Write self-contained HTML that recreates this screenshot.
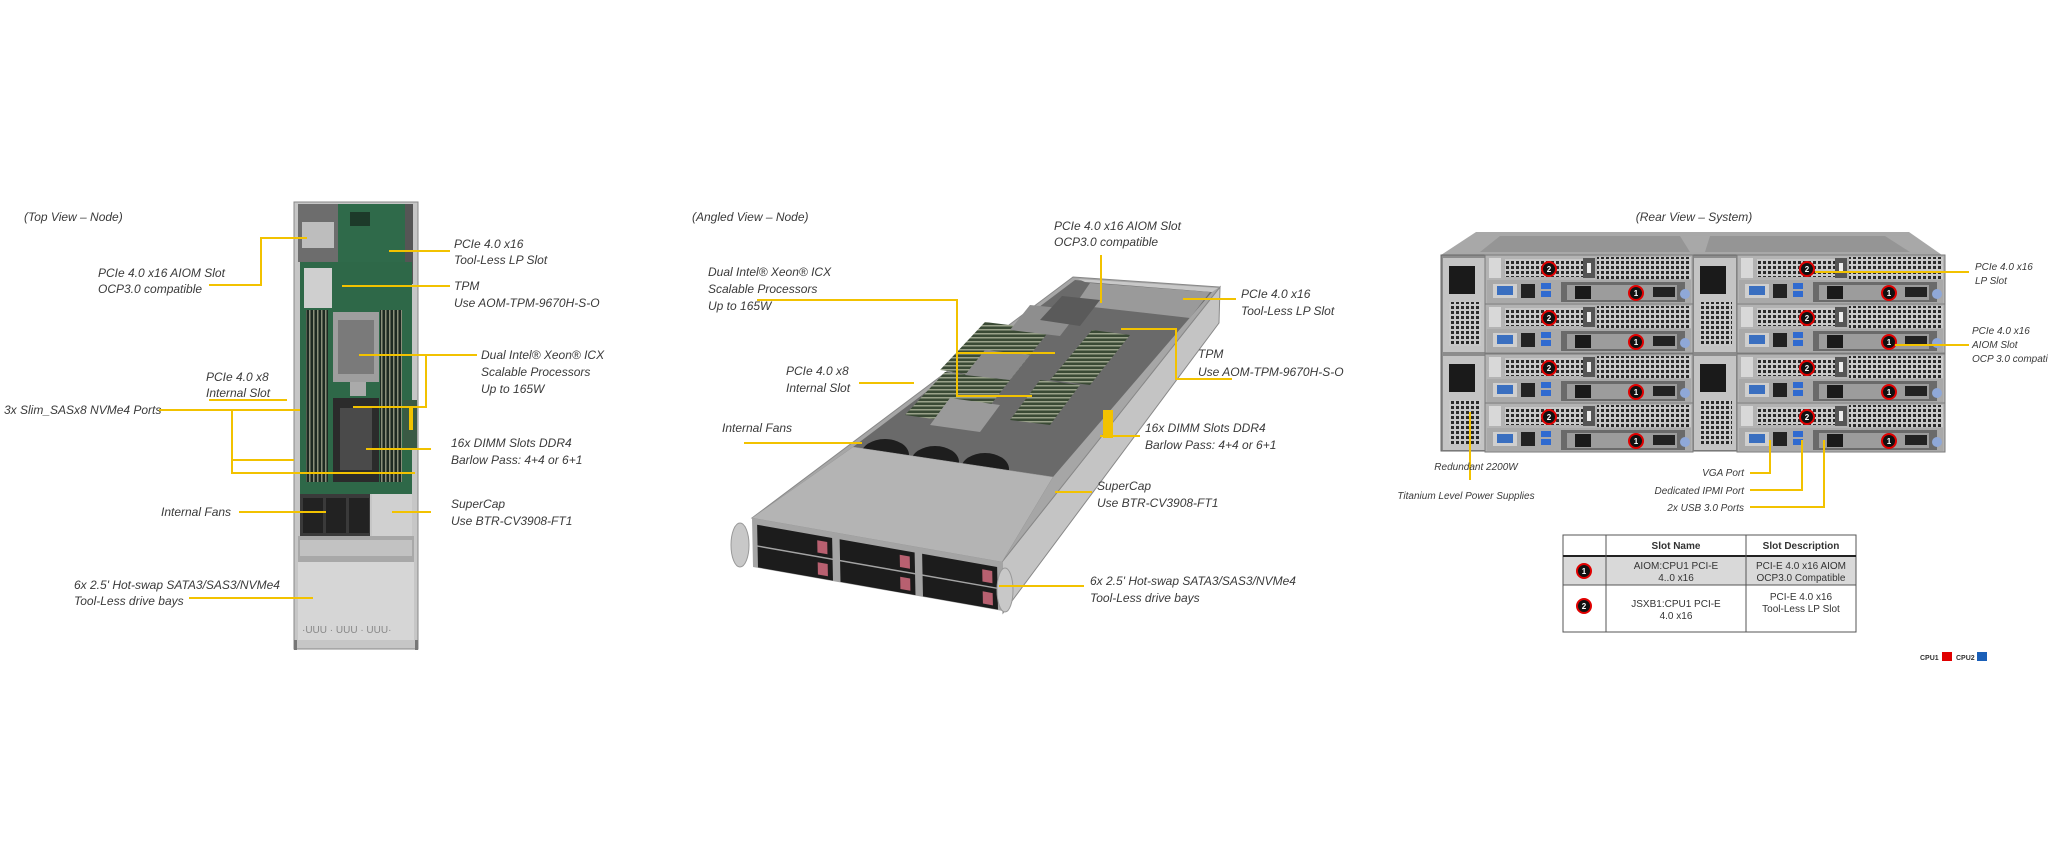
<!DOCTYPE html>
<html><head><meta charset="utf-8">
<style>
html,body{margin:0;padding:0;background:#fff;}
svg{display:block;}
text{font-family:"Liberation Sans",Arial,sans-serif;}
.l{font-size:12px;font-style:italic;fill:#3a3a3a;}
.s{font-size:10px;font-style:italic;fill:#3a3a3a;}
.t{font-size:10px;fill:#333;}
.y{stroke:#f2c200;stroke-width:2;fill:none;}
.bn{font-size:8px;font-weight:bold;fill:#fff;text-anchor:middle;}
</style></head>
<body>
<svg width="2048" height="853" viewBox="0 0 2048 853" xmlns="http://www.w3.org/2000/svg">
<defs>
<pattern id="vent" width="5" height="5" patternUnits="userSpaceOnUse"><rect width="5" height="5" fill="#c9c9c9"/><rect x="1" y="1" width="3" height="3" fill="#2a2a2a"/></pattern>
<pattern id="dimm" width="4" height="6" patternUnits="userSpaceOnUse"><rect width="4" height="6" fill="#1e2a22"/><rect x="1" width="1.5" height="6" fill="#8a8f7a"/></pattern>
<pattern id="dimm2" width="6" height="4" patternUnits="userSpaceOnUse"><rect width="6" height="4" fill="#3a4a35"/><rect y="1" width="6" height="1.5" fill="#9aa28a"/></pattern>
<g id="rn">
<rect x="0" y="0" width="208" height="49" fill="#b3b3b3" stroke="#7a7a7a" stroke-width="1"/>
<rect x="4" y="3" width="12" height="20" fill="#d8d8d8"/>
<rect x="20" y="4" width="78" height="18" fill="url(#vent)"/>
<rect x="98" y="3" width="12" height="20" fill="#555"/>
<rect x="102" y="8" width="4" height="10" fill="#eee"/>
<rect x="112" y="2" width="94" height="22" fill="url(#vent)"/>
<rect x="2" y="25" width="204" height="23" fill="#a9a9a9"/>
<rect x="8" y="29" width="24" height="14" fill="#cfcfcf"/>
<rect x="12" y="31" width="16" height="9" fill="#3a6fc0"/>
<rect x="36" y="29" width="14" height="14" fill="#222"/>
<rect x="56" y="28" width="10" height="6" fill="#2f6ad0"/>
<rect x="56" y="36" width="10" height="6" fill="#2f6ad0"/>
<rect x="76" y="27" width="124" height="20" fill="#6a6a6a"/>
<rect x="82" y="30" width="110" height="15" fill="#9c9c9c"/>
<rect x="90" y="31" width="16" height="13" fill="#1a1a1a"/>
<rect x="168" y="32" width="22" height="10" fill="#222"/>
<circle cx="200" cy="39" r="5" fill="#8fa8d8"/>
</g>
</defs>

<!-- ============ TOP VIEW ============ -->
<text class="l" x="24" y="221">(Top View – Node)</text>
<rect x="294" y="202" width="124" height="447" fill="#c6c6c6" stroke="#888"/>
<rect x="298" y="204" width="40" height="58" fill="#6d6d6d"/>
<rect x="302" y="222" width="32" height="26" fill="#bdbdbd"/>
<rect x="338" y="204" width="72" height="60" fill="#2f6a4a"/>
<rect x="350" y="212" width="20" height="14" fill="#1d3a2a"/>
<rect x="405" y="204" width="8" height="80" fill="#555"/>
<rect x="300" y="262" width="112" height="232" fill="#2e6848"/>
<rect x="304" y="268" width="28" height="40" fill="#cfcfcf"/>
<rect x="306" y="310" width="22" height="172" fill="url(#dimm)"/>
<rect x="380" y="310" width="22" height="172" fill="url(#dimm)"/>
<rect x="333" y="312" width="46" height="70" fill="#9e9e9e"/>
<rect x="338" y="320" width="36" height="54" fill="#7a7a7a"/>
<rect x="333" y="398" width="46" height="84" fill="#2b2b2b"/>
<rect x="340" y="408" width="32" height="62" fill="#4a4a4a"/>
<rect x="350" y="382" width="16" height="14" fill="#aaa"/>
<rect x="403" y="400" width="14" height="50" fill="#3a5a44"/>
<rect x="409" y="406" width="4" height="24" fill="#f2c200"/>
<rect x="300" y="494" width="70" height="42" fill="#3a3a3a"/>
<rect x="303" y="498" width="20" height="35" fill="#222"/>
<rect x="326" y="498" width="20" height="35" fill="#222"/>
<rect x="349" y="498" width="20" height="35" fill="#222"/>
<rect x="372" y="494" width="40" height="42" fill="#d0d0d0"/>
<rect x="298" y="536" width="116" height="26" fill="#a8a8a8"/>
<rect x="300" y="540" width="112" height="16" fill="#c2c2c2"/>
<rect x="298" y="562" width="116" height="78" fill="#d6d6d6"/>
<text x="302" y="633" font-size="10" fill="#888">·UUU · UUU · UUU·</text>
<rect x="294" y="640" width="3" height="10" fill="#777"/>
<rect x="415" y="640" width="3" height="10" fill="#777"/>

<text class="l" x="98" y="277">PCIe 4.0 x16 AIOM  Slot</text>
<text class="l" x="98" y="293">OCP3.0 compatible</text>
<polyline class="y" points="209,285 261,285 261,238 307,238"/>
<text class="l" x="454" y="248">PCIe 4.0 x16</text>
<text class="l" x="454" y="264">Tool-Less LP Slot</text>
<line class="y" x1="389" y1="251" x2="450" y2="251"/>
<text class="l" x="454" y="290">TPM</text>
<text class="l" x="454" y="307">Use AOM-TPM-9670H-S-O</text>
<line class="y" x1="342" y1="286" x2="450" y2="286"/>
<text class="l" x="481" y="359">Dual Intel® Xeon® ICX</text>
<text class="l" x="481" y="376">Scalable Processors</text>
<text class="l" x="481" y="393">Up to 165W</text>
<polyline class="y" points="359,355 477,355"/>
<polyline class="y" points="426,355 426,407 353,407"/>
<text class="l" x="206" y="381">PCIe 4.0 x8</text>
<text class="l" x="206" y="397">Internal Slot</text>
<line class="y" x1="209" y1="400" x2="287" y2="400"/>
<text class="l" x="4" y="414">3x Slim_SASx8 NVMe4 Ports</text>
<polyline class="y" points="159,410 300,410"/>
<polyline class="y" points="232,410 232,473 415,473"/>
<line class="y" x1="232" y1="460" x2="294" y2="460"/>
<text class="l" x="451" y="447">16x DIMM Slots DDR4</text>
<text class="l" x="451" y="464">Barlow Pass: 4+4 or 6+1</text>
<line class="y" x1="366" y1="449" x2="431" y2="449"/>
<text class="l" x="161" y="516">Internal Fans</text>
<line class="y" x1="239" y1="512" x2="326" y2="512"/>
<text class="l" x="451" y="508">SuperCap</text>
<text class="l" x="451" y="525">Use BTR-CV3908-FT1</text>
<line class="y" x1="392" y1="512" x2="431" y2="512"/>
<text class="l" x="74" y="589">6x 2.5' Hot-swap  SATA3/SAS3/NVMe4</text>
<text class="l" x="74" y="605">Tool-Less drive bays</text>
<line class="y" x1="189" y1="598" x2="313" y2="598"/>

<!-- ============ ANGLED VIEW ============ -->
<text class="l" x="692" y="221">(Angled View – Node)</text>
<polygon points="1002,562 1220,287 1219,323 1003,613" fill="#c4c4c4" stroke="#888"/>
<polygon points="752,518 1002,562 1220,287 1073,277" fill="#a6a6a6" stroke="#888"/>
<polygon points="853,447 1053,477 1212,292 1075,280" fill="#6a6a6a"/>
<polygon points="1085,282 1212,292 1218,288 1078,279" fill="#c8c8c8"/>
<polygon points="1090,283 1210,292 1190,318 1075,305" fill="#9a9a9a"/>
<polygon points="940,370 1010,380 1050,330 985,322" fill="url(#dimm2)"/>
<polygon points="905,415 975,425 1010,380 945,372" fill="url(#dimm2)"/>
<polygon points="1010,420 1050,425 1080,385 1040,380" fill="url(#dimm2)"/>
<polygon points="1050,380 1090,385 1130,335 1092,330" fill="url(#dimm2)"/>
<polygon points="965,375 1010,380 1030,355 985,350" fill="#8a8a8a"/>
<polygon points="930,425 980,432 1000,405 950,398" fill="#9a9a9a"/>
<polygon points="1010,330 1060,336 1080,310 1030,305" fill="#8e8e8e"/>
<polygon points="1040,320 1080,326 1100,300 1062,296" fill="#5a5a5a"/>
<rect x="1103" y="410" width="10" height="28" fill="#f2c200"/>
<ellipse cx="885" cy="455" rx="24" ry="16" fill="#1e1e1e"/>
<ellipse cx="935" cy="462" rx="24" ry="16" fill="#1e1e1e"/>
<ellipse cx="985" cy="469" rx="24" ry="16" fill="#1e1e1e"/>
<polygon points="752,518 1002,562 1053,477 853,447" fill="#b4b4b4" stroke="#999" stroke-width="0.5"/>
<g transform="matrix(250,44,1,49,752,518)">
<rect x="0" y="0" width="1" height="1" fill="#a4a4a4"/>
<rect x="0.02" y="0.12" width="0.30" height="0.42" fill="#1c1c1c"/>
<rect x="0.02" y="0.57" width="0.30" height="0.42" fill="#1c1c1c"/>
<rect x="0.35" y="0.12" width="0.30" height="0.42" fill="#1c1c1c"/>
<rect x="0.35" y="0.57" width="0.30" height="0.42" fill="#1c1c1c"/>
<rect x="0.68" y="0.12" width="0.30" height="0.42" fill="#1c1c1c"/>
<rect x="0.68" y="0.57" width="0.30" height="0.42" fill="#1c1c1c"/>
<rect x="0.26" y="0.22" width="0.04" height="0.25" fill="#b86070"/>
<rect x="0.26" y="0.67" width="0.04" height="0.25" fill="#b86070"/>
<rect x="0.59" y="0.22" width="0.04" height="0.25" fill="#b86070"/>
<rect x="0.59" y="0.67" width="0.04" height="0.25" fill="#b86070"/>
<rect x="0.92" y="0.22" width="0.04" height="0.25" fill="#b86070"/>
<rect x="0.92" y="0.67" width="0.04" height="0.25" fill="#b86070"/>
</g>
<ellipse cx="740" cy="545" rx="9" ry="22" fill="#c8c8c8" stroke="#999"/>
<ellipse cx="1005" cy="590" rx="8" ry="22" fill="#c8c8c8" stroke="#999"/>

<text class="l" x="1054" y="230">PCIe 4.0 x16 AIOM Slot</text>
<text class="l" x="1054" y="246">OCP3.0 compatible</text>
<line class="y" x1="1101" y1="255" x2="1101" y2="303"/>
<text class="l" x="708" y="276">Dual Intel® Xeon® ICX</text>
<text class="l" x="708" y="293">Scalable Processors</text>
<text class="l" x="708" y="310">Up to 165W</text>
<polyline class="y" points="757,300 957,300 957,396 1032,396"/>
<line class="y" x1="957" y1="353" x2="1055" y2="353"/>
<text class="l" x="1241" y="298">PCIe 4.0 x16</text>
<text class="l" x="1241" y="315">Tool-Less LP Slot</text>
<line class="y" x1="1183" y1="299" x2="1236" y2="299"/>
<text class="l" x="1198" y="358">TPM</text>
<text class="l" x="1198" y="376">Use AOM-TPM-9670H-S-O</text>
<polyline class="y" points="1121,329 1176,329 1176,379 1232,379"/>
<text class="l" x="786" y="375">PCIe 4.0 x8</text>
<text class="l" x="786" y="392">Internal Slot</text>
<line class="y" x1="859" y1="383" x2="914" y2="383"/>
<text class="l" x="722" y="432">Internal Fans</text>
<line class="y" x1="744" y1="443" x2="862" y2="443"/>
<text class="l" x="1145" y="432">16x DIMM Slots DDR4</text>
<text class="l" x="1145" y="449">Barlow Pass:  4+4 or 6+1</text>
<line class="y" x1="1100" y1="436" x2="1140" y2="436"/>
<text class="l" x="1097" y="490">SuperCap</text>
<text class="l" x="1097" y="507">Use BTR-CV3908-FT1</text>
<line class="y" x1="1055" y1="492" x2="1092" y2="492"/>
<text class="l" x="1090" y="585">6x 2.5' Hot-swap  SATA3/SAS3/NVMe4</text>
<text class="l" x="1090" y="602">Tool-Less drive bays</text>
<line class="y" x1="999" y1="586" x2="1084" y2="586"/>

<!-- ============ REAR VIEW ============ -->
<text class="l" x="1694" y="221" text-anchor="middle">(Rear View – System)</text>
<polygon points="1476,232 1909,232 1942,255 1441,255" fill="#a8a8a8"/>
<polygon points="1500,236 1680,236 1690,252 1480,252" fill="#959595"/>
<polygon points="1710,236 1885,236 1910,252 1705,252" fill="#959595"/>
<rect x="1441" y="255" width="501" height="196" fill="#8c8c8c" stroke="#666"/>
<g>
<rect x="1443" y="258" width="42" height="94" fill="#c4c4c4"/>
<rect x="1449" y="266" width="26" height="28" fill="#1a1a1a"/>
<rect x="1449" y="302" width="32" height="44" fill="url(#vent)"/>
<rect x="1443" y="356" width="42" height="94" fill="#c4c4c4"/>
<rect x="1449" y="364" width="26" height="28" fill="#1a1a1a"/>
<rect x="1449" y="400" width="32" height="44" fill="url(#vent)"/>
<rect x="1694" y="258" width="42" height="94" fill="#c4c4c4"/>
<rect x="1700" y="266" width="26" height="28" fill="#1a1a1a"/>
<rect x="1700" y="302" width="32" height="44" fill="url(#vent)"/>
<rect x="1694" y="356" width="42" height="94" fill="#c4c4c4"/>
<rect x="1700" y="364" width="26" height="28" fill="#1a1a1a"/>
<rect x="1700" y="400" width="32" height="44" fill="url(#vent)"/>
</g>
<use href="#rn" x="1485" y="255"/>
<use href="#rn" x="1485" y="304"/>
<use href="#rn" x="1485" y="354"/>
<use href="#rn" x="1485" y="403"/>
<use href="#rn" x="1737" y="255"/>
<use href="#rn" x="1737" y="304"/>
<use href="#rn" x="1737" y="354"/>
<use href="#rn" x="1737" y="403"/>
<g fill="#111" stroke="#e00000" stroke-width="2">
<circle cx="1549" cy="269" r="7"/><circle cx="1549" cy="318" r="7"/><circle cx="1549" cy="368" r="7"/><circle cx="1549" cy="417" r="7"/>
<circle cx="1807" cy="269" r="7"/><circle cx="1807" cy="318" r="7"/><circle cx="1807" cy="368" r="7"/><circle cx="1807" cy="417" r="7"/>
<circle cx="1636" cy="293" r="7"/><circle cx="1636" cy="342" r="7"/><circle cx="1636" cy="392" r="7"/><circle cx="1636" cy="441" r="7"/>
<circle cx="1889" cy="293" r="7"/><circle cx="1889" cy="342" r="7"/><circle cx="1889" cy="392" r="7"/><circle cx="1889" cy="441" r="7"/>
</g>
<g>
<text class="bn" x="1549" y="272">2</text><text class="bn" x="1549" y="321">2</text><text class="bn" x="1549" y="371">2</text><text class="bn" x="1549" y="420">2</text>
<text class="bn" x="1807" y="272">2</text><text class="bn" x="1807" y="321">2</text><text class="bn" x="1807" y="371">2</text><text class="bn" x="1807" y="420">2</text>
<text class="bn" x="1636" y="296">1</text><text class="bn" x="1636" y="345">1</text><text class="bn" x="1636" y="395">1</text><text class="bn" x="1636" y="444">1</text>
<text class="bn" x="1889" y="296">1</text><text class="bn" x="1889" y="345">1</text><text class="bn" x="1889" y="395">1</text><text class="bn" x="1889" y="444">1</text>
</g>
<line class="y" x1="1815" y1="272" x2="1969" y2="272"/>
<line class="y" x1="1895" y1="345" x2="1969" y2="345"/>
<text class="s" x="1975" y="270">PCIe 4.0 x16</text>
<text class="s" x="1975" y="284">LP Slot</text>
<text class="s" x="1972" y="334">PCIe 4.0 x16</text>
<text class="s" x="1972" y="348">AIOM Slot</text>
<text class="s" x="1972" y="362">OCP 3.0 compatible</text>
<line class="y" x1="1470" y1="412" x2="1470" y2="480"/>
<text class="s" x="1476" y="470" text-anchor="middle">Redundant 2200W</text>
<text class="s" x="1466" y="499" text-anchor="middle">Titanium Level Power Supplies</text>
<text class="s" x="1744" y="476" text-anchor="end">VGA Port</text>
<text class="s" x="1744" y="494" text-anchor="end">Dedicated IPMI Port</text>
<text class="s" x="1744" y="511" text-anchor="end">2x USB 3.0 Ports</text>
<polyline class="y" points="1750,473 1770,473 1770,440"/>
<polyline class="y" points="1750,490 1802,490 1802,440"/>
<polyline class="y" points="1750,507 1824,507 1824,440"/>

<rect x="1563" y="556" width="293" height="29" fill="#d9d9d9"/>
<rect x="1563" y="535" width="293" height="97" fill="none" stroke="#555" stroke-width="1"/>
<line x1="1563" y1="556" x2="1856" y2="556" stroke="#222" stroke-width="2"/>
<line x1="1563" y1="585" x2="1856" y2="585" stroke="#555"/>
<line x1="1606" y1="535" x2="1606" y2="632" stroke="#555"/>
<line x1="1746" y1="535" x2="1746" y2="632" stroke="#555"/>
<text class="t" x="1676" y="549" text-anchor="middle" font-weight="bold">Slot Name</text>
<text class="t" x="1801" y="549" text-anchor="middle" font-weight="bold">Slot Description</text>
<text class="t" x="1676" y="569" text-anchor="middle">AIOM:CPU1  PCI-E</text>
<text class="t" x="1676" y="581" text-anchor="middle">4..0 x16</text>
<text class="t" x="1801" y="569" text-anchor="middle">PCI-E  4.0 x16 AIOM</text>
<text class="t" x="1801" y="581" text-anchor="middle">OCP3.0 Compatible</text>
<text class="t" x="1676" y="607" text-anchor="middle">JSXB1:CPU1  PCI-E</text>
<text class="t" x="1676" y="619" text-anchor="middle">4.0 x16</text>
<text class="t" x="1801" y="600" text-anchor="middle">PCI-E  4.0 x16</text>
<text class="t" x="1801" y="612" text-anchor="middle">Tool-Less  LP Slot</text>
<circle cx="1584" cy="571" r="7" fill="#111" stroke="#e00000" stroke-width="2"/>
<text class="bn" x="1584" y="574">1</text>
<circle cx="1584" cy="606" r="7" fill="#111" stroke="#e00000" stroke-width="2"/>
<text class="bn" x="1584" y="609">2</text>
<text x="1920" y="660" font-size="7" font-weight="bold" fill="#333">CPU1</text>
<rect x="1942" y="652" width="10" height="9" fill="#e00000"/>
<text x="1956" y="660" font-size="7" font-weight="bold" fill="#333">CPU2</text>
<rect x="1977" y="652" width="10" height="9" fill="#1a5fb8"/>
</svg>
</body></html>
